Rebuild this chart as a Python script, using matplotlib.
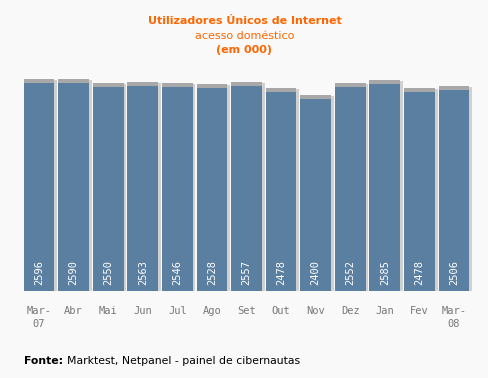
import numpy as np
import matplotlib
matplotlib.use('Agg')
import matplotlib.pyplot as plt

months = ['Mar-\n07', 'Abr', 'Mai', 'Jun', 'Jul', 'Ago', 'Set', 'Out', 'Nov',
          'Dez', 'Jan', 'Fev', 'Mar-\n08']
users = [2596, 2590, 2550, 2563, 2546, 2528, 2557, 2478, 2400, 2552, 2585, 2478, 2506]

bg = '#f9f9f9'
bar_color = '#5b7fa0'
orange = '#ff6600'

fig = plt.figure(figsize=(4.89, 3.78), dpi=100, facecolor=bg)
ax = fig.add_axes([20 / 489, 87 / 378, 453 / 489, 231 / 378])
ax.set_facecolor(bg)

x = np.arange(len(users))
ymax = 2596 * 231 / 208
px = ymax / 231  # data units per pixel

# shadow behind the bars
ax.bar(x + 0.05, np.array(users) + 3 * px, width=0.95, color='#d0d0d0', zorder=1)
ax.bar(x, np.array(users) + 4 * px, width=0.89, color='#a8a8a8', zorder=2)
ax.bar(x, users, width=0.89, color=bar_color, zorder=3)

for xi, v in zip(x, users):
    ax.text(xi, 6 * px, str(v), rotation=90, ha='center', va='bottom',
            color='white', fontsize=7.5, family='DejaVu Sans Mono', zorder=4)

ax.set_xlim(-0.55, len(users) - 0.45)
ax.set_ylim(0, ymax)
ax.set_xticks(x)
ax.set_xticklabels(months, fontsize=7.5, color='#777777', family='DejaVu Sans Mono',
                   linespacing=1.3)
ax.tick_params(axis='x', length=0, pad=11)
ax.set_yticks([])
for s in ax.spines.values():
    s.set_visible(False)

fig.text(0.5, 1 - 21 / 378, 'Utilizadores Únicos de Internet', ha='center', va='center',
         color=orange, fontsize=8, fontweight='bold')
fig.text(0.5, 1 - 36 / 378, 'acesso doméstico', ha='center', va='center',
         color=orange, fontsize=8)
fig.text(0.5, 1 - 50 / 378, '(em 000)', ha='center', va='center',
         color=orange, fontsize=8, fontweight='bold')

fig.text(24 / 489, 1 - 361 / 378, 'Fonte:', ha='left', va='center',
         color='black', fontsize=7.8, fontweight='bold')
fig.text(67 / 489, 1 - 361 / 378, 'Marktest, Netpanel - painel de cibernautas',
         ha='left', va='center', color='black', fontsize=7.8)

fig.savefig('out.png', dpi=100, facecolor=bg)
